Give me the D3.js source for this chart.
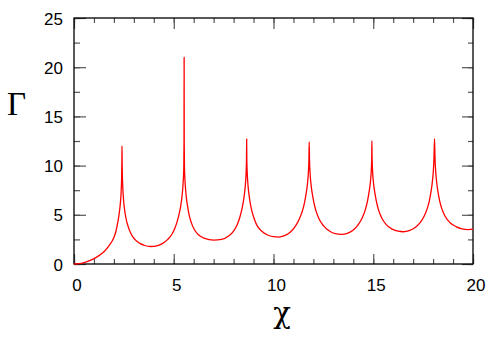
<!DOCTYPE html>
<html>
<head>
<meta charset="utf-8">
<script src="https://cdn.jsdelivr.net/npm/d3@7"></script>
<style>
  body { margin: 0; background: #fff; }
  svg { display: block; }
</style>
</head>
<body>
<div id="chart"></div>
<script>
// values
const chiValues = [
  0, 0.25, 0.5, 0.75, 1.0, 1.25, 1.5, 1.75, 2.0, 2.1, 2.2, 2.27, 2.32, 2.355, 2.375, 2.39, 2.4, 2.405,
  2.415, 2.43, 2.45, 2.48, 2.53, 2.6, 2.7, 2.85, 3.05, 3.3, 3.55, 3.84, 4.15, 4.45, 4.7, 4.9,
  5.05, 5.17, 5.27, 5.35, 5.41, 5.455, 5.485, 5.505, 5.515, 5.52, 5.525, 5.535, 5.555, 5.585,
  5.63, 5.69, 5.77, 5.88, 6.03, 6.25, 6.55, 7.0, 7.4, 7.75, 8.0, 8.18, 8.32, 8.42, 8.5, 8.56,
  8.6, 8.63, 8.648, 8.655, 8.662, 8.68, 8.71, 8.75, 8.81, 8.89, 9.0, 9.15, 9.4, 9.7, 10.0,
  10.25, 10.55, 10.85, 11.1, 11.3, 11.45, 11.56, 11.64, 11.7, 11.745, 11.775, 11.79, 11.805,
  11.835, 11.88, 11.94, 12.02, 12.13, 12.28, 12.5, 12.8, 13.1, 13.4, 13.7, 14.0, 14.25, 14.45,
  14.6, 14.71, 14.79, 14.85, 14.895, 14.922, 14.932, 14.942, 14.97, 15.015, 15.075, 15.155,
  15.265, 15.42, 15.65, 15.95, 16.25, 16.5, 16.8, 17.1, 17.35, 17.55, 17.7, 17.82, 17.9, 17.96,
  18.01, 18.045, 18.071, 18.095, 18.13, 18.18, 18.24, 18.32, 18.44, 18.6, 18.85, 19.15, 19.45,
  19.75, 20.0
]
const gammaValues = [
  0, 0.04, 0.15, 0.32, 0.55, 0.85, 1.25, 1.85, 2.7, 3.3, 4.3, 5.2, 6.1, 7.0, 7.9, 9.0, 10.5, 12.0,
  10.0, 8.6, 7.6, 6.6, 5.6, 4.7, 3.9, 3.1, 2.5, 2.1, 1.88, 1.78, 1.85, 2.1, 2.5, 3.0,
  3.6, 4.3, 5.1, 5.9, 6.8, 7.8, 8.8, 10.0, 12.5, 21.0, 12.5, 10.0, 8.8, 7.8,
  6.8, 5.9, 5.0, 4.2, 3.5, 2.95, 2.6, 2.42, 2.5, 2.85, 3.35, 4.0, 4.8, 5.6, 6.5, 7.4,
  8.3, 9.4, 10.8, 12.7, 10.8, 9.4, 8.3, 7.4, 6.5, 5.6, 4.8, 4.0, 3.35, 2.95, 2.78,
  2.74, 2.88, 3.25, 3.85, 4.6, 5.4, 6.3, 7.2, 8.1, 9.2, 10.6, 12.4, 10.6,
  9.2, 8.1, 7.2, 6.3, 5.4, 4.6, 3.9, 3.35, 3.08, 3.02, 3.12, 3.45, 4.0, 4.7,
  5.5, 6.4, 7.3, 8.2, 9.3, 10.7, 12.5, 10.7, 9.3, 8.2, 7.3, 6.4,
  5.5, 4.7, 4.0, 3.55, 3.33, 3.28, 3.38, 3.7, 4.2, 4.85, 5.6, 6.5, 7.4, 8.3,
  9.4, 10.8, 12.75, 10.8, 9.4, 8.3, 7.4, 6.5, 5.6, 4.85, 4.2, 3.8, 3.57,
  3.5, 3.55
]
const xMajorTicks = [0, 5, 10, 15, 20]
const xMinorTicks = d3.range(0, 21, 1)
const yMajorTicks = [0, 5, 10, 15, 20, 25]
const yMinorTicks = d3.range(0, 25.1, 2.5)

const points = chiValues.map((x, i) => ({ x: x, y: gammaValues[i] }))

const W = 491
const H = 337
const margin = { top: 18, left: 74, right: 18, bottom: 73 }
const width = W - margin.left - margin.right
const height = H - margin.top - margin.bottom

const svg = d3.select('#chart')
  .append('svg')
  .attr('width', W)
  .attr('height', H)

const g = svg.append('g')
  .attr('transform', 'translate(' + margin.left + ',' + margin.top + ')')

const xPositionScale = d3.scaleLinear().domain([0, 20]).range([0, width])
const yPositionScale = d3.scaleLinear().domain([0, 25]).range([height, 0])

const tickColor = '#555'

// minor ticks (no labels)
function minor(axis, ticks, size) {
  return axis.tickValues(ticks).tickSize(-size).tickFormat('')
}

g.append('g').attr('transform', 'translate(0,' + height + ')')
  .call(minor(d3.axisBottom(xPositionScale), xMinorTicks, 5))
g.append('g')
  .call(minor(d3.axisTop(xPositionScale), xMinorTicks, 5))
g.append('g')
  .call(minor(d3.axisLeft(yPositionScale), yMinorTicks, 6))
g.append('g').attr('transform', 'translate(' + width + ',0)')
  .call(minor(d3.axisRight(yPositionScale), yMinorTicks, 5))

// major ticks
g.append('g').attr('transform', 'translate(0,' + height + ')')
  .attr('class', 'x-axis')
  .call(d3.axisBottom(xPositionScale).tickValues(xMajorTicks).tickSize(-10).tickPadding(22))
g.append('g')
  .call(minor(d3.axisTop(xPositionScale), xMajorTicks, 11))
g.append('g')
  .attr('class', 'y-axis')
  .call(d3.axisLeft(yPositionScale).tickValues(yMajorTicks).tickSize(-12).tickPadding(-1))
g.append('g').attr('transform', 'translate(' + width + ',0)')
  .call(minor(d3.axisRight(yPositionScale), yMajorTicks, 11))

g.selectAll('.tick line').attr('stroke', tickColor).attr('stroke-width', 1.2)
g.selectAll('.domain').remove()

g.selectAll('.x-axis text')
  .attr('font-family', 'Liberation Sans, Arial, sans-serif')
  .attr('font-size', 17)
  .attr('fill', '#000')
  .attr('dx', 2.5)
  .attr('y', 15)
  .attr('dy', '0.71em')

g.selectAll('.y-axis text')
  .attr('font-family', 'Liberation Sans, Arial, sans-serif')
  .attr('font-size', 17)
  .attr('fill', '#000')
  .attr('x', -11)
  .attr('dy', '0.36em')

// frame
g.append('rect')
  .attr('width', width)
  .attr('height', height)
  .attr('fill', 'none')
  .attr('stroke', '#000')
  .attr('stroke-width', 1.3)

// the curve
const line = d3.line()
  .x(d => xPositionScale(d.x))
  .y(d => yPositionScale(d.y))
  .curve(d3.curveMonotoneX)

g.append('path')
  .datum(points)
  .attr('d', line)
  .attr('fill', 'none')
  .attr('stroke', '#ff0000')
  .attr('stroke-width', 1.3)

// axis titles
svg.append('text')
  .text('Γ')
  .attr('x', 7)
  .attr('y', 115)
  .attr('font-family', 'Liberation Serif, Times New Roman, serif')
  .attr('font-size', 33)
  .attr('fill', '#000')

svg.append('text')
  .text('χ')
  .attr('x', 282)
  .attr('y', 323)
  .attr('text-anchor', 'middle')
  .attr('font-family', 'DejaVu Serif, serif')
  .attr('font-size', 29)
  .attr('fill', '#000')
</script>
</body>
</html>
